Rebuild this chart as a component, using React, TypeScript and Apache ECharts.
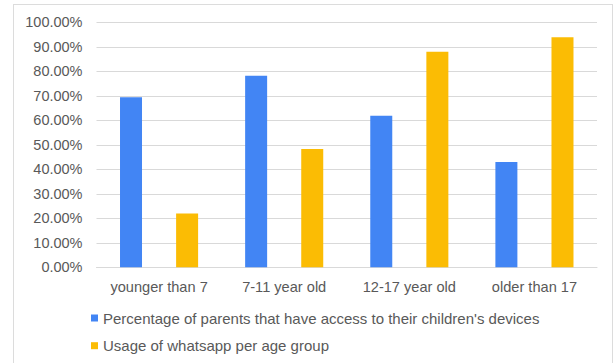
import React, { useEffect, useRef } from "react";
import * as echarts from "echarts";

const categories = ["younger than 7", "7-11 year old", "12-17 year old", "older than 17"];
const accessValues = [0.694, 0.782, 0.619, 0.43];
const whatsappValues = [0.22, 0.483, 0.88, 0.939];
const seriesNames = [
  "Percentage of parents that have access to their children's devices",
  "Usage of whatsapp per age group",
];

const FONT = "'Liberation Sans', Arial, sans-serif";
const TEXT = "#595959";

export default function App() {
  const ref = useRef<HTMLDivElement>(null);
  useEffect(() => {
    if (!ref.current) return;
    const chart = echarts.init(ref.current, undefined, { renderer: "svg" });
    const legendBase = {
      orient: "vertical",
      left: 91,
      itemWidth: 7,
      itemHeight: 7,
      icon: "rect",
      padding: 0,
      textStyle: { fontFamily: FONT, fontSize: 15, color: TEXT, lineHeight: 18 },
    };
    chart.setOption({
      animation: false,
      backgroundColor: "#ffffff",
      textStyle: { fontFamily: FONT },
      grid: { left: 96.5, right: 17, top: 22.3, bottom: 95.7, containLabel: false },
      legend: [
        { ...legendBase, top: 309, data: [seriesNames[0]] },
        { ...legendBase, top: 336.7, data: [seriesNames[1]] },
      ],
      xAxis: {
        type: "category",
        data: categories,
        axisTick: { show: false },
        axisLine: { lineStyle: { color: "#d9d9d9" } },
        axisLabel: { fontFamily: FONT, fontSize: 14.6, color: TEXT, margin: 12, interval: 0 },
      },
      yAxis: {
        type: "value",
        min: 0,
        max: 1,
        interval: 0.1,
        axisLine: { show: false },
        axisTick: { show: false },
        splitLine: { lineStyle: { color: "#d9d9d9" } },
        axisLabel: {
          fontFamily: FONT,
          fontSize: 14.5,
          color: TEXT,
          margin: 14,
          formatter: (v: number) => (v * 100).toFixed(2) + "%",
        },
      },
      series: [
        {
          name: seriesNames[0],
          type: "bar",
          data: accessValues,
          barWidth: 22,
          barGap: "155%",
          itemStyle: { color: "#4285F4" },
        },
        {
          name: seriesNames[1],
          type: "bar",
          data: whatsappValues,
          barWidth: 22,
          barGap: "155%",
          itemStyle: { color: "#FBBC04" },
        },
      ],
    });
    return () => chart.dispose();
  }, []);
  return (
    <div style={{ position: "absolute", left: 0, top: 0, width: 614, height: 363, overflow: "hidden", background: "#fff" }}>
      <div ref={ref} style={{ position: "absolute", left: 0, top: 0, width: 614, height: 363 }} />
      <div
        style={{
          position: "absolute",
          left: 13,
          top: 4,
          width: 598,
          height: 380,
          border: "1px solid #dcdcdc",
          pointerEvents: "none",
        }}
      />
    </div>
  );
}
